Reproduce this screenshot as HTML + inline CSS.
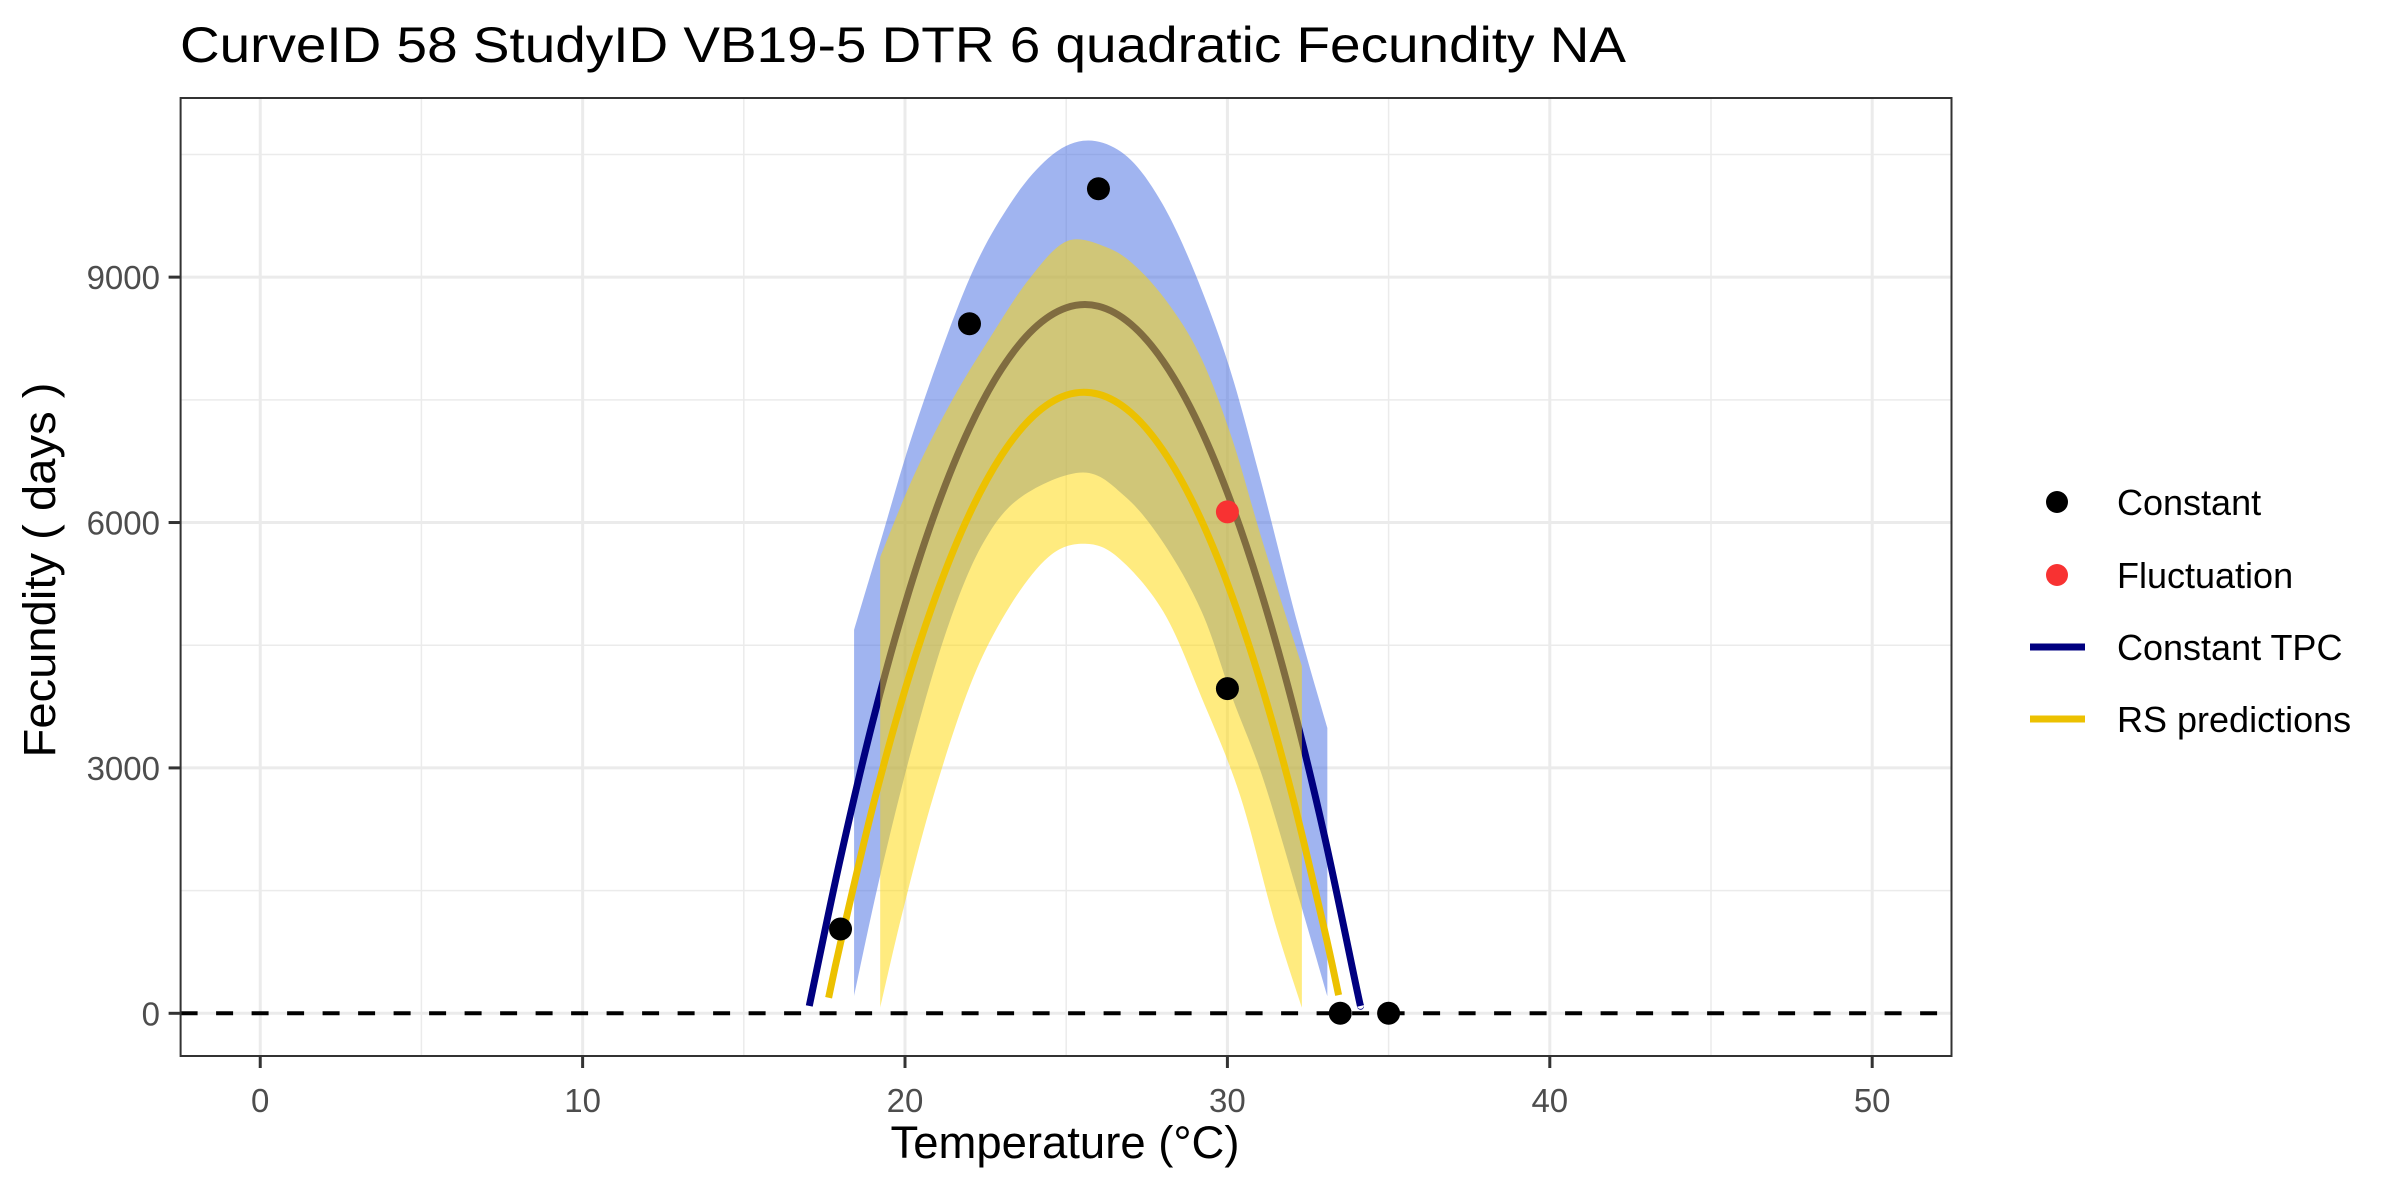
<!DOCTYPE html>
<html><head><meta charset="utf-8"><style>
html,body{margin:0;padding:0;background:#fff;}
svg{display:block;font-family:"Liberation Sans",Arial,sans-serif;}
</style></head><body>
<svg id="chart" width="2400" height="1200" viewBox="0 0 2400 1200">
<text x="180" y="62" font-size="50" fill="#000" textLength="1446" lengthAdjust="spacingAndGlyphs">CurveID 58 StudyID VB19-5 DTR 6 quadratic Fecundity NA</text>
<g id="grid"></g>
<g id="marks"></g>
<rect x="180.6" y="98" width="1770.9" height="958" fill="none" stroke="#333" stroke-width="2"/>
<g id="axes"></g>
<text x="1065" y="1158" font-size="45" text-anchor="middle" textLength="349" lengthAdjust="spacingAndGlyphs">Temperature (°C)</text>
<text transform="translate(55,570) rotate(-90)" font-size="45" text-anchor="middle" textLength="375" lengthAdjust="spacingAndGlyphs">Fecundity ( days )</text>
<g id="legend">
 <g><circle cx="2057" cy="502" r="11" fill="#000"/><text x="2117" y="515" font-size="36">Constant</text></g>
 <g><circle cx="2057" cy="575" r="11" fill="#f83232"/><text x="2117" y="588" font-size="36">Fluctuation</text></g>
 <g><line x1="2030" y1="647" x2="2085" y2="647" stroke="#000080" stroke-width="7"/><text x="2117" y="660" font-size="36">Constant TPC</text></g>
 <g><line x1="2030" y1="719" x2="2085" y2="719" stroke="#ecc100" stroke-width="7"/><text x="2117" y="732" font-size="36">RS predictions</text></g>
</g>
</svg>
<script>
const xTicks=[0,10,20,30,40,50];
const yTicks=[0,3000,6000,9000];
const constT=[18,22,26,30,33.5,35];
const constV=[1030,8430,10080,3970,0,0];
const flucT=[30];
const flucV=[6130];
const tpcT=[17.03,18,19,20,21,22,23,24,25,26,27,28,29,30,31,32,33,34,34.13];
const tpcV=[90,1902,3569,5000,6196,7156,7881,8371,8625,8644,8427,7975,7288,6365,5207,3813,2185,320,90];
const rsT=[17.63,18,19,20,21,22,23,24,25,26,27,28,29,30,31,32,33,33.45];
const rsV=[190,861,2526,3955,5148,6105,6825,7309,7557,7569,7345,6884,6188,5255,4085,2680,1038,222];
const blueUpT=[18.42,19.23,20.36,21.96,23.26,24.45,25.52,26.59,27.54,28.61,29.92,30.98,32.17,33.1];
const blueUpV=[4688,5754,7228,8947,9895,10456,10667,10561,10175,9404,8070,6596,4772,3488];
const blueLoT=[18.42,19.23,20.3,21.37,22.43,23.62,25.52,26.83,28.01,29.2,30.15,31.1,32.17,33.1];
const blueLoV=[210,1684,3368,4772,5754,6316,6611,6316,5754,4912,3860,2877,1474,210];
const yelUpT=[19.23,20.3,21.48,22.67,23.86,25.02,26.23,27.18,28.25,29.2,30.15,31.1,32.31];
const yelUpV=[5579,6596,7509,8281,8982,9439,9368,9123,8632,8000,7018,5754,4246];
const yelLoT=[19.23,19.94,20.89,22.08,23.26,24.45,25.52,26.59,28.01,29.2,30.39,31.46,32.31];
const yelLoV=[70,1263,2667,4070,4982,5579,5740,5579,4912,3860,2667,1123,70];

const NS="http://www.w3.org/2000/svg";
const X0=180.6,X1=1951.5,Y0=98,Y1=1056;
const xMin=-2.47,xMax=52.46,yMin=-522,yMax=11190;
function sx(t){return X0+(t-xMin)/(xMax-xMin)*(X1-X0);}
function sy(v){return Y1-(v-yMin)/(yMax-yMin)*(Y1-Y0);}
function mk(tag,attrs,parent){const e=document.createElementNS(NS,tag);for(const k in attrs)e.setAttribute(k,attrs[k]);parent.appendChild(e);return e;}
const grid=document.getElementById('grid'),marks=document.getElementById('marks'),axes=document.getElementById('axes');
mk('rect',{x:X0,y:Y0,width:X1-X0,height:Y1-Y0,fill:'#fff'},grid);
for(let i=0;i<xTicks.length;i++){
 const minor=xTicks[i]+5;
 if(sx(minor)<X1){const m=mk('line',{x1:sx(minor),x2:sx(minor),y1:Y0,y2:Y1,stroke:'#ebebeb','stroke-width':1.5},grid);
 
 }
}
for(let i=0;i<yTicks.length;i++){
 const minor=yTicks[i]+1500;
 if(sy(minor)>Y0){const m=mk('line',{x1:X0,x2:X1,y1:sy(minor),y2:sy(minor),stroke:'#ebebeb','stroke-width':1.5},grid);
 
 }
}
xTicks.forEach(t=>{
 const g=mk('line',{x1:sx(t),x2:sx(t),y1:Y0,y2:Y1,stroke:'#ebebeb','stroke-width':3},grid);
 
 
 const tk=mk('line',{x1:sx(t),x2:sx(t),y1:Y1,y2:Y1+12,stroke:'#333','stroke-width':3},axes);
 
 
 const lb=mk('text',{x:sx(t),y:1112,'font-size':33,fill:'#4d4d4d','text-anchor':'middle'},axes);
 lb.textContent=t;
 
 
});
yTicks.forEach(v=>{
 const g=mk('line',{x1:X0,x2:X1,y1:sy(v),y2:sy(v),stroke:'#ebebeb','stroke-width':3},grid);
 
 
 const tk=mk('line',{x1:X0-12,x2:X0,y1:sy(v),y2:sy(v),stroke:'#333','stroke-width':3},axes);
 
 
 const lb=mk('text',{x:160,y:sy(v)+12,'font-size':33,fill:'#4d4d4d','text-anchor':'end'},axes);
 lb.textContent=v;
 
 
});
function smooth(pts){
 let d='M'+pts[0][0]+','+pts[0][1];
 for(let i=0;i<pts.length-1;i++){
  const p0=pts[Math.max(i-1,0)],p1=pts[i],p2=pts[i+1],p3=pts[Math.min(i+2,pts.length-1)];
  const c1x=p1[0]+(p2[0]-p0[0])/6,c1y=p1[1]+(p2[1]-p0[1])/6;
  const c2x=p2[0]-(p3[0]-p1[0])/6,c2y=p2[1]-(p3[1]-p1[1])/6;
  d+='C'+c1x+','+c1y+' '+c2x+','+c2y+' '+p2[0]+','+p2[1];
 }
 return d;
}
function ribbon(uT,uV,lT,lV){
 const up=uT.map((t,i)=>[sx(t),sy(uV[i])]);
 const lo=lT.map((t,i)=>[sx(t),sy(lV[i])]).reverse();
 let d=smooth(up);
 d+='L'+smooth(lo).slice(1);
 return d+'Z';
}
function linePath(T,V){return smooth(T.map((t,i)=>[sx(t),sy(V[i])]));}
const zero=mk('line',{x1:X0,x2:X1,y1:sy(0),y2:sy(0),stroke:'#000','stroke-width':4,'stroke-dasharray':'17 18.5'},marks);


const br=mk('path',{d:ribbon(blueUpT,blueUpV,blueLoT,blueLoV),fill:'#4169e1','fill-opacity':0.5},marks);


const tl=mk('path',{d:linePath(tpcT,tpcV),fill:'none',stroke:'#000080','stroke-width':7},marks);


const yr=mk('path',{d:ribbon(yelUpT,yelUpV,yelLoT,yelLoV),fill:'#ffd700','fill-opacity':0.5},marks);


const rl=mk('path',{d:linePath(rsT,rsV),fill:'none',stroke:'#ecc100','stroke-width':7},marks);


constT.forEach((t,i)=>{
 const c=mk('circle',{cx:sx(t),cy:sy(constV[i]),r:11.5,fill:'#000'},marks);
 
 
});
flucT.forEach((t,i)=>{
 const c=mk('circle',{cx:sx(t),cy:sy(flucV[i]),r:11.5,fill:'#f83232'},marks);
 
 
});
</script>
</body></html>
